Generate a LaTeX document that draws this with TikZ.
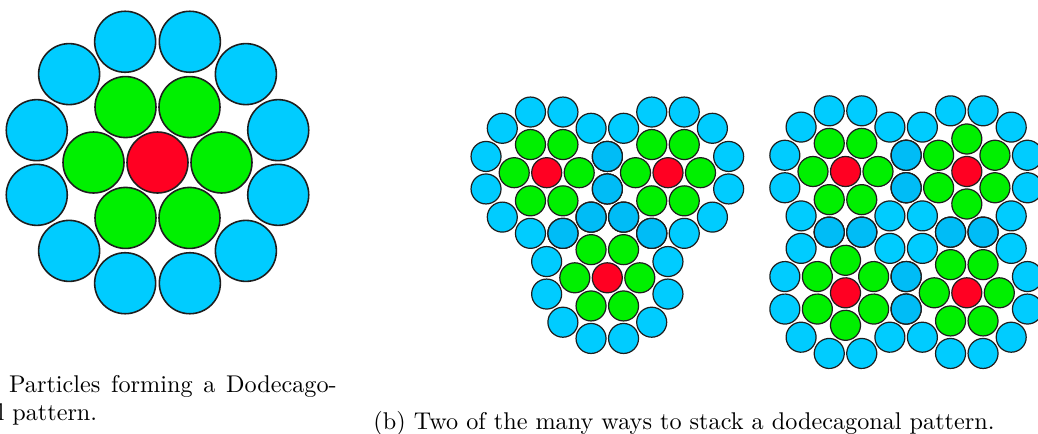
\documentclass[tikz,border=0pt]{standalone}
\usepackage{tikz}
\usetikzlibrary{calc}
\definecolor{core}{HTML}{FF0022}
\definecolor{shell}{HTML}{00F000}
\definecolor{rim}{HTML}{00CCFF}
\definecolor{rimshared}{HTML}{00BCF6}
\definecolor{outline}{HTML}{1E1E1E}
\tikzset{
  particle/.style={
    draw=outline, fill=#1
  },
  caption/.style={
    inner sep=0pt, anchor=base west, font=\normalsize
  }
}
% one dodecagonal cluster: centre, rotation
\newcommand{\dodeca}[2]{%
  \begin{scope}[shift={(#1)}, rotate=#2]
    \foreach \a in {15,45,...,345}
      \draw[particle=rim] (\a:\rimdist) circle[radius=\prad];
    \foreach \a in {0,60,...,300}
      \draw[particle=shell] (\a:\shelldist) circle[radius=\prad];
    \draw[particle=core] (0,0) circle[radius=\prad];
  \end{scope}}
% rim particles shared by two neighbouring clusters
\newcommand{\sharedrim}[2]{%
  \foreach \a in {#2}
    \draw[particle=rimshared] ($(#1)+(\a:\rimdist)$) circle[radius=\prad];}

\begin{document}
\begin{tikzpicture}[x=0.413pt, y=-0.413pt]

  \useasboundingbox (0,0) rectangle (1038,434);
  \clip (0,0) rectangle (1038,434);

  % (a) single cluster
  \coordinate (single) at (157.5,162.5);
  \begin{scope}[line width=0.65pt]
    \def\shelldist{64}\def\rimdist{125}\def\prad{30.5}
    \dodeca{single}{0}
  \end{scope}

  % (b) three clusters
  \coordinate (tri1) at (546.7,172.7);
  \coordinate (tri2) at (668.0,172.7);
  \coordinate (tri3) at (607.3,277.8);
  \begin{scope}[line width=0.5pt]
    \def\shelldist{32.5}\def\rimdist{62.8}\def\prad{15}
    \dodeca{tri1}{0}
    \dodeca{tri2}{0}
    \dodeca{tri3}{0}
    \sharedrim{tri1}{-15,15,45,75}
    \sharedrim{tri2}{105,135}
  \end{scope}

  % (b) four clusters
  \coordinate (sq1) at (845.5,171.5);
  \coordinate (sq2) at (966.8,171.5);
  \coordinate (sq3) at (845.5,292.8);
  \coordinate (sq4) at (966.8,292.8);
  \begin{scope}[line width=0.5pt]
    \def\shelldist{32.5}\def\rimdist{62.8}\def\prad{15}
    \dodeca{sq1}{0}
    \dodeca{sq2}{30}
    \dodeca{sq3}{30}
    \dodeca{sq4}{0}
    \sharedrim{sq1}{-15,15,75,105}
    \sharedrim{sq2}{75,105}
    \sharedrim{sq3}{-15,15}
  \end{scope}

  % Captions
  \node[caption] (capa1) at (-33,392)
    {\makebox[152.5pt][s]{(a) Particles forming a Dodecago-}};
  \node[caption] (capa2) at (-28.5,420.5) {nal pattern.};
  \node[caption] (capb) at (373,429)
    {(b) Two of the many ways to stack a dodecagonal pattern.};

\end{tikzpicture}
\end{document}
